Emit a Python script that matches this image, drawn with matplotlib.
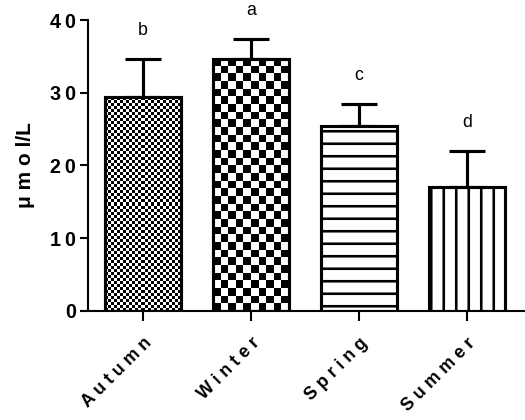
import numpy as np
import matplotlib.pyplot as plt

plt.rcParams['font.family'] = ['Liberation Sans', 'DejaVu Sans']
plt.rcParams['hatch.linewidth'] = 2.5

seasons = ['Autumn', 'Winter', 'Spring', 'Summer']
means = [29.4, 34.7, 25.5, 17.0]
sds = [5.2, 2.7, 2.9, 5.0]
letters = ['b', 'a', 'c', 'd']
yticks = [0, 10, 20, 30, 40]

fig = plt.figure(figsize=(7, 5.6), dpi=75)
ax = fig.add_axes([0.168, 0.26, 0.832, 0.692])

x = np.arange(len(seasons))

# error bars (only upper)
ax.errorbar(x, means, yerr=[np.zeros(len(sds)), sds], fmt='none', ecolor='black',
            elinewidth=3, capsize=17, capthick=3, zorder=1)

hatches = [None, None, '-', '|']
bars = ax.bar(x, means, 0.7, facecolor='white', edgecolor='black', linewidth=3,
              hatch=hatches, zorder=3)
ax.set_xlim(-0.51, 3.54)
ax.set_ylim(0, 40)

# checkerboard fills for Autumn and Winter (cell size in pixels)
cell_px = [3, 7.7]
for i in range(2):
    b = bars[i]
    x0, x1 = b.get_x(), b.get_x() + b.get_width()
    p0 = ax.transData.transform((x0, 0))
    p1 = ax.transData.transform((x1, b.get_height()))
    nx = int(round((p1[0] - p0[0]) / cell_px[i]))
    ny = int(round((p1[1] - p0[1]) / cell_px[i]))
    board = (np.add.outer(np.arange(ny), np.arange(nx)) % 2).astype(float)
    im = ax.imshow(board, extent=(x0, x1, 0, b.get_height()), aspect='auto',
                   cmap='gray', interpolation='nearest', zorder=2, origin='lower')
    im.set_clip_path(b)
    b.set_facecolor('none')
ax.set_xlim(-0.51, 3.54)
ax.set_ylim(0, 40)

for i in range(len(seasons)):
    ax.text(x[i], means[i] + sds[i] + 2.8, letters[i], ha='center', va='bottom',
            fontsize=17, clip_on=False)

ax.spines['top'].set_visible(False)
ax.spines['right'].set_visible(False)
ax.spines['left'].set_linewidth(2)
ax.spines['bottom'].set_linewidth(2)

ax.set_yticks(yticks)
ax.set_yticklabels(['\u2009'.join(str(v)) for v in yticks])
ax.tick_params(axis='y', width=2, length=8, labelsize=19, pad=4)
ax.tick_params(axis='x', width=2, length=10, labelsize=17, pad=13)
for t in ax.get_yticklabels():
    t.set_fontweight('bold')

ax.set_xticks(x)
ax.set_xticklabels([' '.join(s) for s in seasons], rotation=45, ha='right',
                   rotation_mode='anchor', fontweight='bold')
ax.set_ylabel('\u03bc m o l/L', fontsize=20, fontweight='bold', labelpad=14)

fig.savefig('out.png', dpi=75)
